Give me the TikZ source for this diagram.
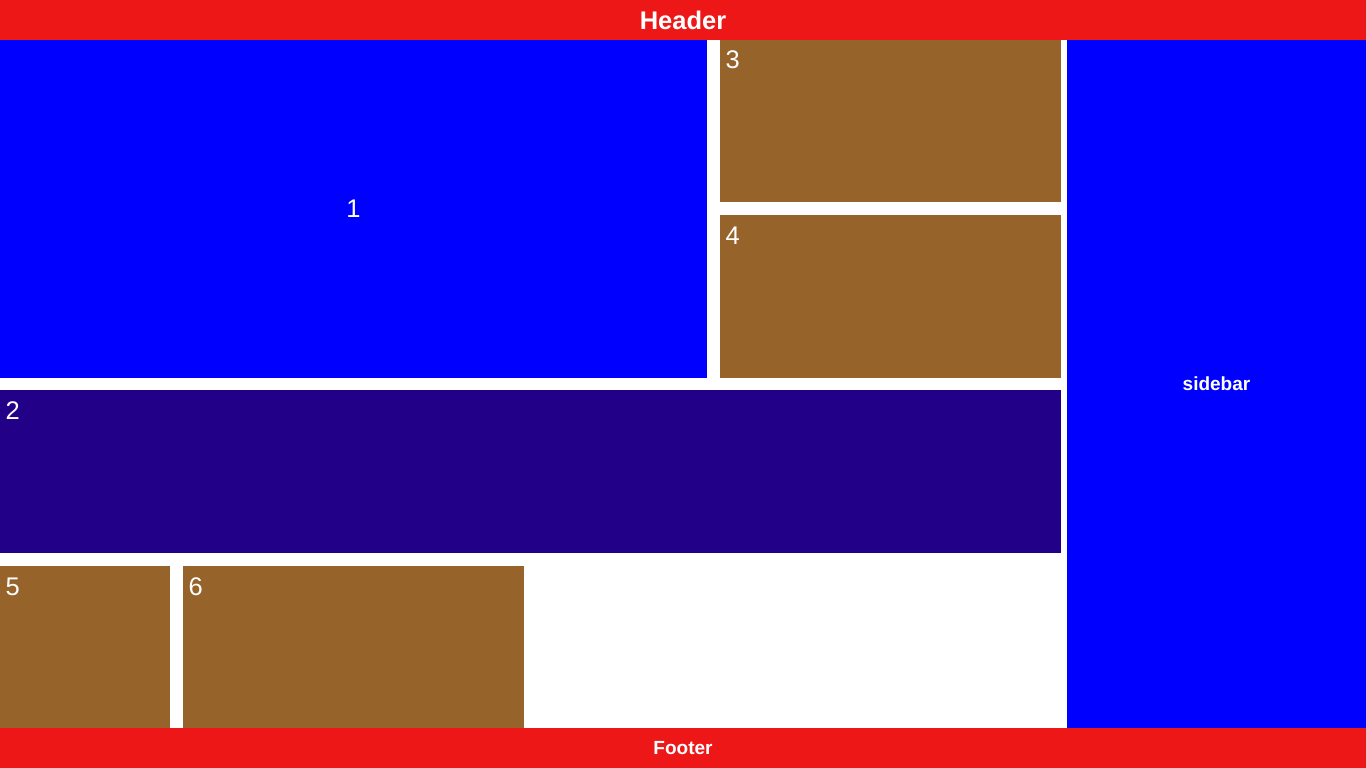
\documentclass[tikz,border=0pt]{standalone}
\usepackage{fontspec}
\setmainfont{Liberation Sans}
\usetikzlibrary{calc}
\definecolor{hred}{HTML}{EE1717}
\definecolor{pblue}{HTML}{0000FF}
\definecolor{brown}{HTML}{96632B}
\definecolor{purp}{HTML}{220088}
\begin{document}
\begin{tikzpicture}[x=1pt,y=-1pt,
  box/.style={fill=#1,draw=none,inner sep=0pt,outer sep=0pt,anchor=north west,text=white},
  num/.style={text=white,inner sep=0pt,anchor=base west,font=\fontsize{25.5}{30}\selectfont},
  bold19/.style={font=\fontsize{19}{23}\selectfont\bfseries}]
\fill[white] (0,0) rectangle (1366,768);
\useasboundingbox (0,0) rectangle (1366,768);
\node[box=hred,minimum width=1366pt,minimum height=40pt,font=\fontsize{25.5}{30}\selectfont\bfseries] (header) at (0,0) {Header};
\node[box=pblue,minimum width=707pt,minimum height=338pt,font=\fontsize{25.5}{30}\selectfont] (b1) at (0,40) {1};
\node[box=brown,minimum width=341pt,minimum height=162pt] (b3) at (720,40) {};
\node[box=brown,minimum width=341pt,minimum height=163pt] (b4) at (720,215) {};
\node[box=purp,minimum width=1061pt,minimum height=163pt] (b2) at (0,390) {};
\node[box=brown,minimum width=170pt,minimum height=162pt] (b5) at (0,566) {};
\node[box=brown,minimum width=341pt,minimum height=162pt] (b6) at (183,566) {};
\node[box=pblue,minimum width=299pt,minimum height=688pt,bold19] (side) at (1067,40) {sidebar};
\node[box=hred,minimum width=1366pt,minimum height=40pt,bold19] (footer) at (0,728) {Footer};
\node[num] (l3) at ($(b3.north west)+(5.5,29)$) {3};
\node[num] (l4) at ($(b4.north west)+(5.5,29)$) {4};
\node[num] (l2) at ($(b2.north west)+(5.5,29)$) {2};
\node[num] (l5) at ($(b5.north west)+(5.5,29)$) {5};
\node[num] (l6) at ($(b6.north west)+(5.5,29)$) {6};
\end{tikzpicture}
\end{document}
